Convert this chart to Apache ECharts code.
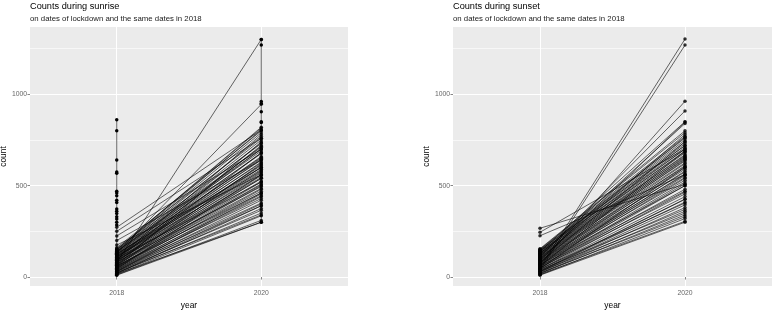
<!DOCTYPE html>
<html>
<head>
<meta charset="utf-8">
<script src="https://cdn.jsdelivr.net/npm/echarts@6/dist/echarts.min.js"></script>
<style>
  html, body { margin: 0; padding: 0; background: #fff; }
  #chart { width: 775px; height: 310px; }
</style>
</head>
<body>
<div id="chart"></div>
<script>
var years = [2018, 2020];
var yTicks = [0, 500, 1000];
var yMinorTicks = [250, 750, 1250];

// sunrise: paired counts (2018 -> 2020)
var sunrise2018 = [
  12, 15, 18, 20, 22, 25, 28, 30, 33, 35,
  38, 40, 42, 45, 48, 50, 52, 55, 58, 60,
  62, 65, 68, 70, 72, 75, 78, 80, 82, 85,
  88, 90, 92, 95, 98, 100, 102, 105, 108, 110,
  112, 115, 118, 120, 122, 125, 128, 130, 132, 135,
  138, 140, 142, 145, 148, 150, 155, 160, 30, 45,
  60, 80, 95, 110, 125, 140, 20, 55, 90, 115,
  175, 200, 225, 250, 272, 78, 130, 65, 100, 150
];
var sunrise2020 = [
  310, 335, 300, 350, 375, 340, 400, 365, 420, 390,
  440, 405, 460, 430, 480, 445, 500, 470, 520, 485,
  460, 540, 505, 555, 525, 570, 540, 585, 495, 600,
  560, 615, 575, 630, 590, 645, 520, 660, 610, 680,
  625, 700, 640, 715, 655, 735, 600, 750, 675, 770,
  690, 790, 710, 805, 730, 815, 760, 800, 455, 560,
  620, 680, 720, 580, 650, 700, 390, 510, 545, 600,
  560, 640, 700, 760, 805, 1300, 945, 740, 780, 820
];
// sunrise: one group with several counts per year (drawn as the vertical runs)
var sunriseGroup2018 = [860, 800, 640, 575, 568, 470, 460, 445, 420, 408, 372, 360, 348, 330, 318, 300, 285, 10];
var sunriseGroup2020 = [300, 850, 845, 905, 950, 960, 1270, 1300];

// sunset: paired counts (2018 -> 2020)
var sunset2018 = [
  10, 12, 15, 18, 20, 22, 25, 28, 30, 32,
  35, 38, 40, 42, 45, 48, 50, 52, 55, 58,
  60, 62, 65, 68, 70, 72, 75, 78, 80, 82,
  85, 88, 90, 92, 95, 98, 100, 102, 105, 108,
  110, 112, 115, 118, 120, 122, 125, 128, 130, 132,
  135, 138, 140, 142, 145, 148, 150, 152, 155, 30,
  45, 60, 80, 100, 120, 140, 267, 245, 226, 50,
  38, 70, 110, 90, 130
];
var sunset2020 = [
  300, 320, 305, 340, 360, 330, 380, 395, 350, 410,
  425, 370, 440, 465, 405, 480, 500, 455, 510, 520,
  470, 540, 555, 500, 565, 530, 580, 545, 600, 560,
  610, 575, 620, 590, 640, 605, 650, 625, 660, 635,
  670, 645, 680, 655, 690, 700, 665, 710, 720, 685,
  730, 740, 700, 750, 760, 720, 770, 790, 800, 427,
  600, 690, 740, 780, 840, 850, 508, 700, 560, 1302,
  1269, 962, 909, 848, 765
];

var FONT = '"Liberation Sans", Arial, sans-serif';
var chart = echarts.init(document.getElementById('chart'));

function pairLines(from, to) {
  return from.map(function (v, i) {
    return { coords: [[years[0], v], [years[1], to[i]]] };
  });
}
function pairPoints(from, to) {
  var pts = [];
  from.forEach(function (v) { pts.push([years[0], v]); });
  to.forEach(function (v) { pts.push([years[1], v]); });
  return pts;
}
function groupPath(a, b) {
  var first = a.slice().sort(function (p, q) { return q - p; }).map(function (v) { return [years[0], v]; });
  var second = b.slice().sort(function (p, q) { return p - q; }).map(function (v) { return [years[1], v]; });
  return first.concat(second);
}

function xAxisFor(g) {
  return {
    type: 'value', gridIndex: g, min: 2016.8, max: 2021.2,
    name: 'year', nameLocation: 'middle', nameGap: 14,
    nameTextStyle: { color: '#000', fontSize: 8.4, fontFamily: FONT },
    axisLine: { show: false },
    axisTick: { customValues: years, length: 2.5, lineStyle: { color: '#666', width: 0.8 } },
    axisLabel: { customValues: years, color: '#666', fontSize: 6.8, fontFamily: FONT, margin: 4,
      formatter: function (v) { return String(v); } },
    splitLine: { show: true, lineStyle: { color: '#fff', width: 1 } }
  };
}
function yAxisFor(g) {
  return {
    type: 'value', gridIndex: g, min: -49, max: 1368,
    name: 'count', nameLocation: 'middle', nameGap: 20,
    nameTextStyle: { color: '#000', fontSize: 8.4, fontFamily: FONT },
    axisLine: { show: false },
    axisTick: { customValues: yTicks, length: 2.5, lineStyle: { color: '#666', width: 0.8 } },
    axisLabel: { customValues: yTicks, color: '#666', fontSize: 6.8, fontFamily: FONT, margin: 3,
      formatter: function (v) { return String(v); } },
    splitLine: { show: true, lineStyle: { color: '#fff', width: 1 } }
  };
}
function yMinorFor(g) {
  return {
    type: 'value', gridIndex: g, min: -49, max: 1368,
    axisLine: { show: false },
    axisTick: { show: false, customValues: yMinorTicks },
    axisLabel: { show: false, customValues: yMinorTicks },
    splitLine: { show: true, lineStyle: { color: '#fff', width: 0.6 } }
  };
}

var lineStyle = { color: '#000', width: 0.7, opacity: 0.85 };
var dot = { color: '#000' };

var option = {
  animation: false,
  textStyle: { fontFamily: FONT },
  title: [
    { text: 'Counts during sunrise', left: 30, top: 2, padding: 0,
      textStyle: { fontSize: 9.2, fontWeight: 'normal', color: '#000', fontFamily: FONT } },
    { text: 'on dates of lockdown and the same dates in 2018', left: 30, top: 15, padding: 0,
      textStyle: { fontSize: 7.8, fontWeight: 'normal', color: '#1a1a1a', fontFamily: FONT } },
    { text: 'Counts during sunset', left: 453, top: 2, padding: 0,
      textStyle: { fontSize: 9.2, fontWeight: 'normal', color: '#000', fontFamily: FONT } },
    { text: 'on dates of lockdown and the same dates in 2018', left: 453, top: 15, padding: 0,
      textStyle: { fontSize: 7.8, fontWeight: 'normal', color: '#1a1a1a', fontFamily: FONT } }
  ],
  grid: [
    { left: 30, top: 27, width: 318, height: 259, show: true, backgroundColor: '#ebebeb', borderWidth: 0,
      outerBoundsMode: 'none', containLabel: false },
    { left: 453, top: 27, width: 319, height: 259, show: true, backgroundColor: '#ebebeb', borderWidth: 0,
      outerBoundsMode: 'none', containLabel: false }
  ],
  xAxis: [xAxisFor(0), xAxisFor(1)],
  yAxis: [yAxisFor(0), yMinorFor(0), yAxisFor(1), yMinorFor(1)],
  series: [
    { type: 'lines', coordinateSystem: 'cartesian2d', xAxisIndex: 0, yAxisIndex: 0, silent: true,
      lineStyle: lineStyle, data: pairLines(sunrise2018, sunrise2020) },
    { type: 'line', xAxisIndex: 0, yAxisIndex: 0, silent: true, symbol: 'circle', symbolSize: 3.5,
      itemStyle: dot, lineStyle: lineStyle, data: groupPath(sunriseGroup2018, sunriseGroup2020) },
    { type: 'scatter', xAxisIndex: 0, yAxisIndex: 0, silent: true, symbolSize: 3.5,
      itemStyle: dot, data: pairPoints(sunrise2018, sunrise2020) },
    { type: 'lines', coordinateSystem: 'cartesian2d', xAxisIndex: 1, yAxisIndex: 2, silent: true,
      lineStyle: lineStyle, data: pairLines(sunset2018, sunset2020) },
    { type: 'scatter', xAxisIndex: 1, yAxisIndex: 2, silent: true, symbolSize: 3.5,
      itemStyle: dot, data: pairPoints(sunset2018, sunset2020) }
  ]
};

chart.setOption(option);
window.addEventListener('resize', function () { chart.resize(); });
</script>
</body>
</html>
